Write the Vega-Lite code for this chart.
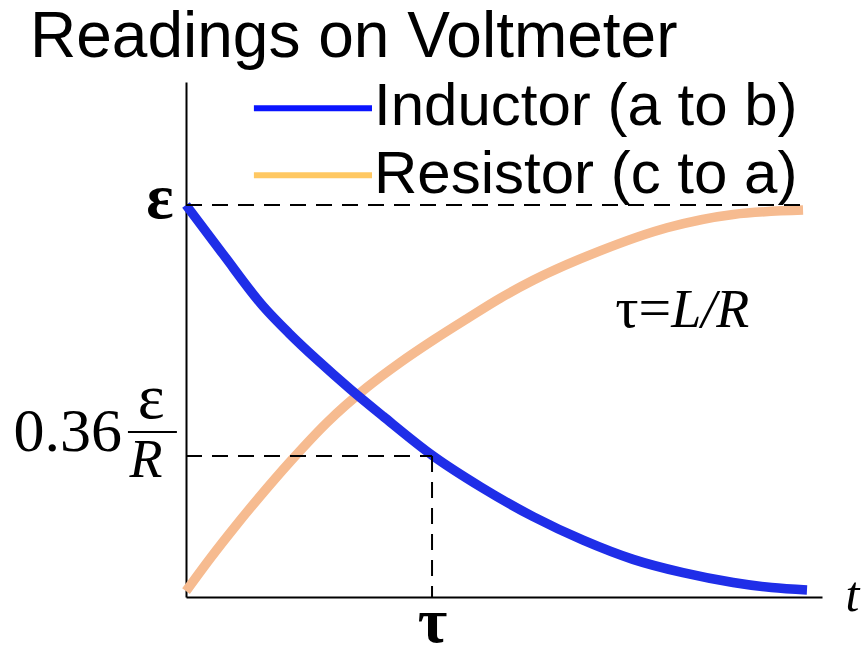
{
  "$schema": "https://vega.github.io/schema/vega-lite/v6.json",
  "width": 636,
  "height": 515,
  "autosize": {"type": "none"},
  "padding": {"left": 186, "top": 82, "right": 39, "bottom": 73},
  "background": "white",
  "config": {"view": {"stroke": null}},
  "data": {"values": [{}]},
  "datasets": {
    "curves": [
      {"series": "Resistor (c to a)", "t": 0.0, "v": 0.015},
      {"series": "Resistor (c to a)", "t": 0.1, "v": 0.1},
      {"series": "Resistor (c to a)", "t": 0.2, "v": 0.18},
      {"series": "Resistor (c to a)", "t": 0.3, "v": 0.256},
      {"series": "Resistor (c to a)", "t": 0.423, "v": 0.345},
      {"series": "Resistor (c to a)", "t": 0.573, "v": 0.445},
      {"series": "Resistor (c to a)", "t": 0.736, "v": 0.535},
      {"series": "Resistor (c to a)", "t": 0.87, "v": 0.598},
      {"series": "Resistor (c to a)", "t": 1.004, "v": 0.655},
      {"series": "Resistor (c to a)", "t": 1.142, "v": 0.71},
      {"series": "Resistor (c to a)", "t": 1.276, "v": 0.762},
      {"series": "Resistor (c to a)", "t": 1.411, "v": 0.808},
      {"series": "Resistor (c to a)", "t": 1.683, "v": 0.883},
      {"series": "Resistor (c to a)", "t": 1.955, "v": 0.942},
      {"series": "Resistor (c to a)", "t": 2.224, "v": 0.976},
      {"series": "Resistor (c to a)", "t": 2.508, "v": 0.987},
      {"series": "Inductor (a to b)", "t": 0.0, "v": 1.0},
      {"series": "Inductor (a to b)", "t": 0.15, "v": 0.875},
      {"series": "Inductor (a to b)", "t": 0.313, "v": 0.742},
      {"series": "Inductor (a to b)", "t": 0.42, "v": 0.672},
      {"series": "Inductor (a to b)", "t": 0.533, "v": 0.605},
      {"series": "Inductor (a to b)", "t": 0.67, "v": 0.529},
      {"series": "Inductor (a to b)", "t": 0.801, "v": 0.461},
      {"series": "Inductor (a to b)", "t": 1.004, "v": 0.36},
      {"series": "Inductor (a to b)", "t": 1.2, "v": 0.28},
      {"series": "Inductor (a to b)", "t": 1.411, "v": 0.205},
      {"series": "Inductor (a to b)", "t": 1.614, "v": 0.145},
      {"series": "Inductor (a to b)", "t": 1.817, "v": 0.096},
      {"series": "Inductor (a to b)", "t": 2.02, "v": 0.062},
      {"series": "Inductor (a to b)", "t": 2.224, "v": 0.037},
      {"series": "Inductor (a to b)", "t": 2.38, "v": 0.024},
      {"series": "Inductor (a to b)", "t": 2.524, "v": 0.018}
    ]
  },
  "layer": [
    {
      "data": {"name": "curves"},
      "mark": {"type": "line", "strokeWidth": 9.5, "interpolate": "monotone", "strokeCap": "butt"},
      "encoding": {
        "x": {
          "field": "t", "type": "quantitative",
          "scale": {"domain": [0, 2.585], "nice": false, "zero": false},
          "axis": {
            "values": [1], "labelExpr": "'τ'", "ticks": false, "grid": false,
            "domainColor": "black", "domainWidth": 2,
            "labelFont": "Liberation Serif", "labelFontSize": 64, "labelFontWeight": "bold",
            "labelColor": "black", "labelBaseline": "alphabetic", "labelPadding": 44,
            "title": "t", "titleFont": "Liberation Serif", "titleFontStyle": "italic",
            "titleFontWeight": "normal", "titleFontSize": 50, "titleColor": "black",
            "titleX": 666, "titleY": 13, "titleBaseline": "alphabetic", "titleAlign": "center"
          }
        },
        "y": {
          "field": "v", "type": "quantitative",
          "scale": {"domain": [0, 1.3138], "nice": false, "zero": false},
          "axis": {
            "values": [1], "labelExpr": "'ε'", "ticks": false, "grid": false,
            "domainColor": "black", "domainWidth": 2,
            "labelFont": "Liberation Serif", "labelFontSize": 64, "labelFontWeight": "bold",
            "labelColor": "black", "labelPadding": 13, "labelOffset": -7,
            "title": null
          }
        },
        "color": {
          "field": "series", "type": "nominal",
          "scale": {"domain": ["Resistor (c to a)", "Inductor (a to b)"], "range": ["#f6bb90", "#1f2ee8"]},
          "legend": null
        },
        "order": {"field": "t", "type": "quantitative"}
      }
    },
    {
      "mark": {"type": "rule", "color": "black", "strokeWidth": 2, "strokeDash": [16, 10]},
      "encoding": {"x": {"datum": 0}, "x2": {"datum": 2.524}, "y": {"datum": 1}}
    },
    {
      "mark": {"type": "rule", "color": "black", "strokeWidth": 2, "strokeDash": [16, 10]},
      "encoding": {"x": {"datum": 0}, "x2": {"datum": 1}, "y": {"datum": 0.36}}
    },
    {
      "mark": {"type": "rule", "color": "black", "strokeWidth": 2, "strokeDash": [16, 10]},
      "encoding": {"x": {"datum": 1}, "y": {"datum": 0.36}, "y2": {"datum": 0}}
    },
    {
      "mark": {"type": "rule", "color": "#0a14ff", "strokeWidth": 6},
      "encoding": {"x": {"datum": 0.276}, "x2": {"datum": 0.756}, "y": {"datum": 1.247}}
    },
    {
      "mark": {"type": "rule", "color": "#ffc862", "strokeWidth": 6},
      "encoding": {"x": {"datum": 0.276}, "x2": {"datum": 0.756}, "y": {"datum": 1.076}}
    },
    {
      "mark": {"type": "text", "text": "Inductor (a to b)", "font": "Liberation Sans", "fontSize": 60, "align": "left", "baseline": "alphabetic", "color": "black"},
      "encoding": {"x": {"datum": 0.764}, "y": {"datum": 1.204}}
    },
    {
      "mark": {"type": "text", "text": "Resistor (c to a)", "font": "Liberation Sans", "fontSize": 60, "align": "left", "baseline": "alphabetic", "color": "black"},
      "encoding": {"x": {"datum": 0.764}, "y": {"datum": 1.0306}}
    },
    {
      "mark": {"type": "text", "text": "Readings on Voltmeter", "font": "Liberation Sans", "fontSize": 64, "align": "left", "baseline": "alphabetic", "color": "black"},
      "encoding": {"x": {"datum": -0.634}, "y": {"datum": 1.3776}}
    },
    {
      "mark": {"type": "text", "text": "0.36", "font": "Liberation Serif", "fontSize": 62, "align": "right", "baseline": "alphabetic", "color": "black"},
      "encoding": {"x": {"datum": -0.26}, "y": {"datum": 0.372}}
    },
    {
      "mark": {"type": "text", "text": "ε", "font": "Liberation Serif", "fontSize": 64, "align": "center", "baseline": "alphabetic", "color": "black"},
      "encoding": {"x": {"datum": -0.142}, "y": {"datum": 0.457}}
    },
    {
      "mark": {"type": "rule", "color": "black", "strokeWidth": 2},
      "encoding": {"x": {"datum": -0.236}, "x2": {"datum": -0.037}, "y": {"datum": 0.421}}
    },
    {
      "mark": {"type": "text", "text": "R", "font": "Liberation Serif", "fontSize": 54, "fontStyle": "italic", "align": "center", "baseline": "alphabetic", "color": "black"},
      "encoding": {"x": {"datum": -0.163}, "y": {"datum": 0.306}}
    },
    {
      "mark": {"type": "text", "text": "τ=", "font": "Liberation Serif", "fontSize": 58, "align": "right", "baseline": "alphabetic", "color": "black"},
      "encoding": {"x": {"datum": 1.972}, "y": {"datum": 0.689}}
    },
    {
      "mark": {"type": "text", "text": "L/R", "font": "Liberation Serif", "fontSize": 54, "fontStyle": "italic", "align": "left", "baseline": "alphabetic", "color": "black"},
      "encoding": {"x": {"datum": 1.972}, "y": {"datum": 0.689}}
    }
  ]
}
